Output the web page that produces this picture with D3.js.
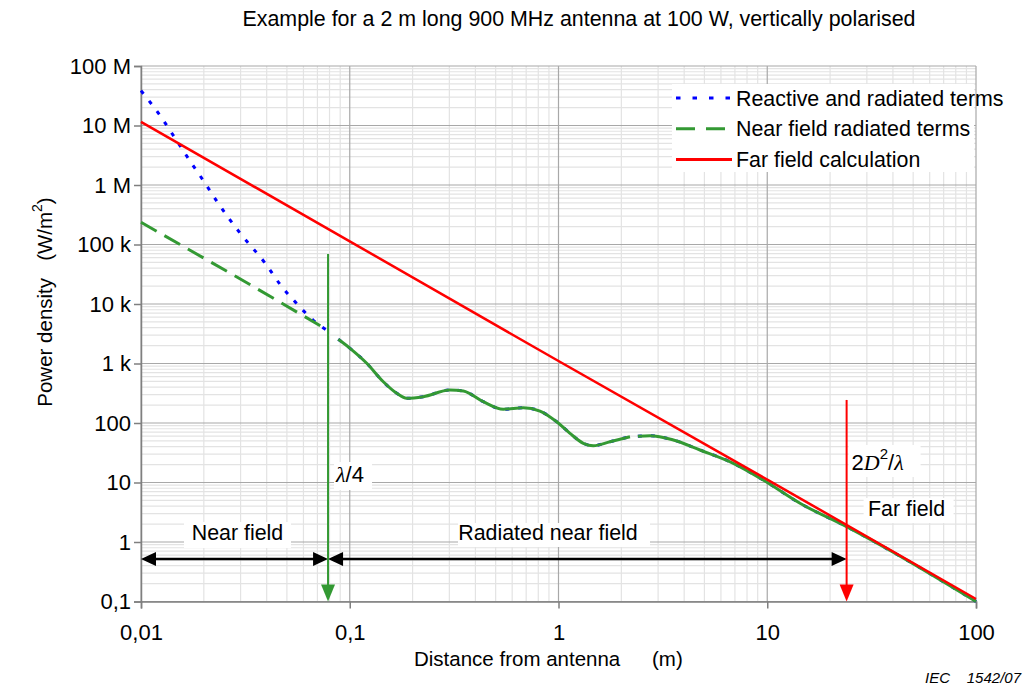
<!DOCTYPE html>
<html>
<head>
<meta charset="utf-8">
<script src="https://cdn.jsdelivr.net/npm/d3@7"></script>
<style>
  body { margin: 0; background: #fff; }
  text { font-family: "Liberation Sans", Arial, sans-serif; fill: #000; }
</style>
</head>
<body>
<svg id="chart" width="1032" height="691"></svg>
<script>
'use strict';

// values (distance in m, power density in W/m2)
const reactiveHeadX = [0.01, 0.01216, 0.01455, 0.01717, 0.02004, 0.02338, 0.0298, 0.03927, 0.0472, 0.0547, 0.0667, 0.0787];
const reactiveHeadY = [3.85e7, 1.58e7, 6.17e6, 2.53e6, 1.14e6, 4.98e5, 1.56e5, 4.89e4, 1.97e4, 1.09e4, 5380, 3500];

const radiatedHeadX = [0.01, 0.0429, 0.0787];
const radiatedHeadY = [2.36e5, 1.26e4, 3600];

// part where both curves coincide
const midX = [0.0881, 0.1003, 0.1206, 0.1448, 0.1679, 0.1874, 0.225, 0.302, 0.35, 0.436, 0.544, 0.678, 0.815, 0.98, 1.135, 1.315, 1.468, 1.765, 2.2];
const midY = [2550, 1800, 1010, 494, 316, 260, 277, 359, 345, 228, 170, 181, 159, 105, 67, 45.6, 41.5, 48.5, 58.9];
const tailX = [2.4, 2.744, 3.548, 4.76, 6.88, 9.57, 14.35, 24, 36, 100];
const tailY = [60, 61.2, 51.8, 35.2, 21.0, 11.0, 4.47, 1.81, 0.834, 0.1];

const farX = [0.01, 0.1, 1, 10, 100];
const farY = [1.15e7, 1.13e5, 1100, 11.2, 0.11];

const xTickVals = [0.01, 0.1, 1, 10, 100];
const xTickLabels = ['0,01', '0,1', '1', '10', '100'];
const yTickVals = [1e8, 1e7, 1e6, 1e5, 1e4, 1e3, 100, 10, 1, 0.1];
const yTickLabels = ['100 M', '10 M', '1 M', '100 k', '10 k', '1 k', '100', '10', '1', '0,1'];

const legendNames = ['Reactive and radiated terms', 'Near field radiated terms', 'Far field calculation'];

const quarterWave = 0.0787;   // lambda/4
const farLimit = 24;          // 2D^2/lambda
const arrowLevel = 0.52;
const greenTop = 69000;
const redTop = 244;

const BLUE = '#0000ff', GREEN = '#339933', RED = '#ff0000';

const svg = d3.select('#chart');

const x = d3.scaleLog().domain([0.01, 100]).range([141, 976]);
const y = d3.scaleLog().domain([0.1, 1e8]).range([601.5, 66]);

function zip(xs, ys) {
    return xs.map(function (v, i) { return [v, ys[i]]; });
}
function isMajor(v) {
    return Math.abs(Math.log10(v) - Math.round(Math.log10(v))) < 1e-6;
}

// grid
const grid = svg.append('g');
const xg = x.ticks();
const yg = y.ticks();
grid.selectAll('.vminor').data(xg.filter(function (d) { return !isMajor(d); }))
    .enter().append('line')
    .attr('x1', function (d) { return x(d); }).attr('x2', function (d) { return x(d); })
    .attr('y1', y(1e8)).attr('y2', y(0.1))
    .attr('stroke', '#e3e3e3').attr('stroke-width', 1.2);
grid.selectAll('.hminor').data(yg.filter(function (d) { return !isMajor(d); }))
    .enter().append('line')
    .attr('y1', function (d) { return y(d); }).attr('y2', function (d) { return y(d); })
    .attr('x1', x(0.01)).attr('x2', x(100))
    .attr('stroke', '#e3e3e3').attr('stroke-width', 1.2);
grid.selectAll('.vmajor').data(xTickVals)
    .enter().append('line')
    .attr('x1', function (d) { return x(d); }).attr('x2', function (d) { return x(d); })
    .attr('y1', y(1e8)).attr('y2', y(0.1))
    .attr('stroke', '#a8a8a8').attr('stroke-width', 1.2);
grid.selectAll('.hmajor').data(yTickVals)
    .enter().append('line')
    .attr('y1', function (d) { return y(d); }).attr('y2', function (d) { return y(d); })
    .attr('x1', x(0.01)).attr('x2', x(100))
    .attr('stroke', '#a8a8a8').attr('stroke-width', 1.2);

// axes
const xAxis = d3.axisBottom(x).tickValues(xTickVals)
    .tickFormat(function (d, i) { return xTickLabels[i]; }).tickSize(7).tickPadding(16);
const yAxis = d3.axisLeft(y).tickValues(yTickVals)
    .tickFormat(function (d, i) { return yTickLabels[i]; }).tickSize(7).tickPadding(3);

const gx = svg.append('g').attr('transform', 'translate(0,' + y(0.1) + ')').call(xAxis);
const gy = svg.append('g').attr('transform', 'translate(' + x(0.01) + ',0)').call(yAxis);
[gx, gy].forEach(function (g) {
    g.select('.domain').attr('stroke', '#7f7f7f').attr('stroke-width', 1.5);
    g.selectAll('.tick line').attr('stroke', '#7f7f7f').attr('stroke-width', 1.5);
    g.selectAll('.tick text').attr('font-size', 22).attr('font-family', '"Liberation Sans", Arial, sans-serif').attr('fill', '#000');
});

// curves
const line = d3.line()
    .defined(function (d) { return d !== null; })
    .x(function (d) { return x(d[0]); })
    .y(function (d) { return y(d[1]); })
    .curve(d3.curveMonotoneX);

const shared = zip(midX, midY).concat([null], zip(tailX, tailY));
const blueData = zip(reactiveHeadX, reactiveHeadY).concat([null], shared);

svg.append('path').attr('d', line(blueData))
    .attr('fill', 'none').attr('stroke', BLUE).attr('stroke-width', 3)
    .attr('stroke-dasharray', '4,9');

svg.append('path').attr('d', line(zip(radiatedHeadX, radiatedHeadY)))
    .attr('fill', 'none').attr('stroke', GREEN).attr('stroke-width', 3)
    .attr('stroke-dasharray', '18,9');
svg.append('path').attr('d', line(shared))
    .attr('fill', 'none').attr('stroke', GREEN).attr('stroke-width', 3);

svg.append('path').attr('d', line.curve(d3.curveLinear)(zip(farX, farY)))
    .attr('fill', 'none').attr('stroke', RED).attr('stroke-width', 2.5);

// arrows
function headDown(px, py, col) {
    svg.append('path')
        .attr('d', 'M' + (px - 7) + ',' + (py - 17) + 'L' + (px + 7) + ',' + (py - 17) + 'L' + px + ',' + py + 'Z')
        .attr('fill', col);
}
function headSide(px, py, dir) {
    svg.append('path')
        .attr('d', 'M' + px + ',' + py + 'L' + (px - dir * 15) + ',' + (py - 7) + 'L' + (px - dir * 15) + ',' + (py + 7) + 'Z')
        .attr('fill', '#000');
}

// label backgrounds and labels
function box(x0, y0, w, h) {
    svg.append('rect').attr('x', x0).attr('y', y0).attr('width', w).attr('height', h).attr('fill', '#fff');
}

box(184, 522, 107, 26);
svg.append('text').attr('x', 237.5).attr('y', 540).attr('text-anchor', 'middle')
    .attr('font-size', 21.4).text('Near field');
box(458, 523, 192, 24);
svg.append('text').attr('x', 548).attr('y', 540).attr('text-anchor', 'middle')
    .attr('font-size', 21.4).text('Radiated near field');
box(x(farLimit) + 17, 498, 90, 25);
svg.append('text').attr('x', x(farLimit) + 60).attr('y', 516).attr('text-anchor', 'middle')
    .attr('font-size', 21.4).text('Far field');

box(x(quarterWave) + 6, 462, 38, 28);
const lq = svg.append('text').attr('x', x(quarterWave) + 8).attr('y', 482).attr('font-size', 22);
lq.append('tspan').attr('font-family', '"Liberation Serif", "Times New Roman", serif').attr('font-style', 'italic').text('λ');
lq.append('tspan').text('/4');

box(x(farLimit) + 2, 445, 72, 32);
const lf = svg.append('text').attr('x', x(farLimit) + 5).attr('y', 470).attr('font-size', 22);
lf.append('tspan').text('2');
lf.append('tspan').attr('font-family', '"Liberation Serif", "Times New Roman", serif').attr('font-style', 'italic').text('D');
lf.append('tspan').attr('font-size', 15).attr('dy', -11).text('2');
lf.append('tspan').attr('dy', 11).text('/');
lf.append('tspan').attr('font-family', '"Liberation Serif", "Times New Roman", serif').attr('font-style', 'italic').text('λ');

// horizontal double arrows
const ay = y(arrowLevel);
svg.append('line').attr('x1', x(0.01) + 10).attr('x2', x(quarterWave) - 10).attr('y1', ay).attr('y2', ay)
    .attr('stroke', '#000').attr('stroke-width', 2.5);
svg.append('line').attr('x1', x(quarterWave) + 10).attr('x2', x(farLimit) - 10).attr('y1', ay).attr('y2', ay)
    .attr('stroke', '#000').attr('stroke-width', 2.5);
headSide(x(0.01), ay, -1);
headSide(x(quarterWave), ay, 1);
headSide(x(quarterWave), ay, -1);
headSide(x(farLimit), ay, 1);

// vertical arrows
svg.append('line').attr('x1', x(quarterWave)).attr('x2', x(quarterWave))
    .attr('y1', y(greenTop)).attr('y2', y(0.1) - 10)
    .attr('stroke', GREEN).attr('stroke-width', 2);
headDown(x(quarterWave), y(0.1), GREEN);
svg.append('line').attr('x1', x(farLimit)).attr('x2', x(farLimit))
    .attr('y1', y(redTop)).attr('y2', y(0.1) - 10)
    .attr('stroke', RED).attr('stroke-width', 2);
headDown(x(farLimit), y(0.1), RED);

// legend
const lg = svg.append('g');
lg.append('rect').attr('x', 672).attr('y', 84).attr('width', 302).attr('height', 88).attr('fill', '#fff');
const legStyles = [
    { col: BLUE, dash: '4.5,12', w: 3 },
    { col: GREEN, dash: '19,11', w: 3 },
    { col: RED, dash: null, w: 3 }
];
legendNames.forEach(function (name, i) {
    const ry = 98 + i * 30.7;
    lg.append('line').attr('x1', 676).attr('x2', 732).attr('y1', ry).attr('y2', ry)
        .attr('stroke', legStyles[i].col).attr('stroke-width', legStyles[i].w)
        .attr('stroke-dasharray', legStyles[i].dash);
    lg.append('text').attr('x', 736).attr('y', ry + 7.5).attr('font-size', 21.4).text(name);
});

// titles
svg.append('text').attr('x', 579).attr('y', 26).attr('text-anchor', 'middle')
    .attr('font-size', 21.4).text('Example for a 2 m long 900 MHz antenna at 100 W, vertically polarised');

svg.append('text').attr('x', 414).attr('y', 666).attr('font-size', 20.5).text('Distance from antenna');
svg.append('text').attr('x', 652).attr('y', 666).attr('font-size', 20.5).text('(m)');

const yt = svg.append('text').attr('transform', 'translate(52,302) rotate(-90)')
    .attr('text-anchor', 'middle').attr('font-size', 20.5).attr('xml:space', 'preserve');
yt.append('tspan').text('Power density   (W/m');
yt.append('tspan').attr('font-size', 14).attr('dy', -10).text('2');
yt.append('tspan').attr('dy', 10).text(')');

svg.append('text').attr('x', 1021).attr('y', 683).attr('text-anchor', 'end')
    .attr('font-size', 15).attr('font-style', 'italic').attr('xml:space', 'preserve').text('IEC    1542/07');
</script>
</body>
</html>
